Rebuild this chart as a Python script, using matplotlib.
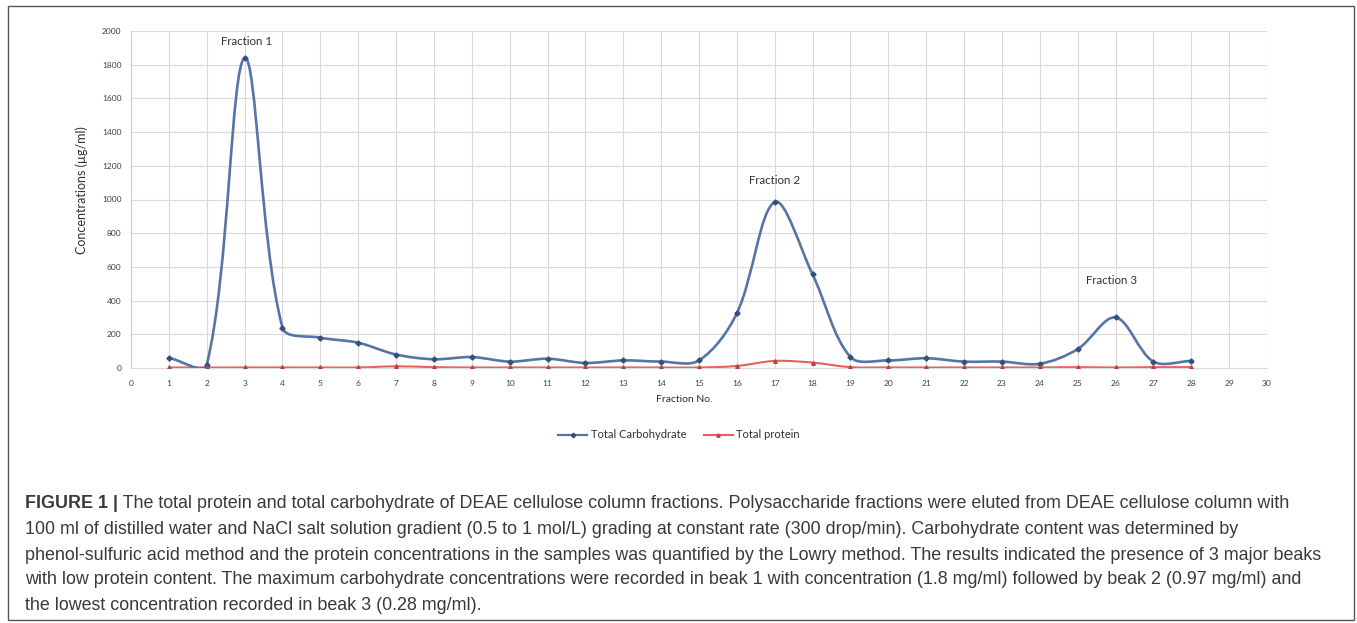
import numpy as np
import matplotlib
matplotlib.use("Agg")
import matplotlib.pyplot as plt
from matplotlib.path import Path
from matplotlib.patches import PathPatch, Rectangle
from matplotlib.lines import Line2D

# ---------------- data ----------------
fractions = list(range(1, 29))
carbohydrate = [60, 20, 1840, 240, 180, 150, 80, 52, 65, 38, 55, 30, 45, 38,
                45, 325, 985, 555, 65, 45, 58, 38, 38, 25, 112, 300, 38, 42]
protein = [3, 3, 3, 3, 3, 3, 10, 5, 3, 3, 3, 3, 3, 3,
           3, 12, 42, 32, 5, 3, 3, 3, 3, 3, 5, 3, 5, 5]
x_ticks = list(range(0, 31))
y_ticks = list(range(0, 2001, 200))
peak_labels = ["Fraction 1", "Fraction 2", "Fraction 3"]
peak_x = [3.05, 17, 25.9]
peak_label_y = [1935, 1110, 520]
series_names = ["Total Carbohydrate", "Total protein"]

caption_bold = "FIGURE 1 |"
caption_lines = [
    "The total protein and total carbohydrate of DEAE cellulose column fractions. Polysaccharide fractions were eluted from DEAE cellulose column with",
    "100 ml of distilled water and NaCl salt solution gradient (0.5 to 1 mol/L) grading at constant rate (300 drop/min). Carbohydrate content was determined by",
    "phenol-sulfuric acid method and the protein concentrations in the samples was quantified by the Lowry method. The results indicated the presence of 3 major beaks",
    "with low protein content. The maximum carbohydrate concentrations were recorded in beak 1 with concentration (1.8 mg/ml) followed by beak 2 (0.97 mg/ml) and",
    "the lowest concentration recorded in beak 3 (0.28 mg/ml).",
]

BLUE = "#5675a6"
BLUE_MK = "#34507c"
RED = "#e8605a"
RED_MK = "#b8433e"
CHART_FONT = "Lato"

W, H = 1357, 623
fig = plt.figure(figsize=(W / 100, H / 100), dpi=100)
fig.patch.set_facecolor("white")

ax = fig.add_axes([131 / W, 1 - 368 / H, (1267 - 131) / W, (368 - 31) / H])
ax.set_xlim(0, 30)
ax.set_ylim(0, 2000)


def smooth_path(xs, ys):
    """Excel-like smoothed line: Bezier segments with tangents weighted by
    neighbouring segment lengths measured on screen."""
    pts = ax.transData.transform(np.column_stack([xs, ys]).astype(float))
    n = len(pts)
    d = np.hypot(*np.diff(pts, axis=0).T)
    out_c, in_c = [], []
    for i in range(n):
        pm = pts[max(i - 1, 0)]
        pp = pts[min(i + 1, n - 1)]
        t = pp - pm
        dm = d[i - 1] if i > 0 else 0.0
        dp = d[i] if i < n - 1 else 0.0
        s = dm + dp if (dm + dp) > 0 else 1.0
        out_c.append(pts[i] + t * (dp / s) / 3.0)
        in_c.append(pts[i] - t * (dm / s) / 3.0)
    verts = [pts[0]]
    codes = [Path.MOVETO]
    for i in range(n - 1):
        verts += [out_c[i], in_c[i + 1], pts[i + 1]]
        codes += [Path.CURVE4] * 3
    verts = ax.transData.inverted().transform(np.array(verts))
    return Path(verts, codes)


ax.add_patch(PathPatch(smooth_path(fractions, carbohydrate), fill=False,
                       edgecolor=BLUE, lw=1.9, zorder=3, capstyle="round"))
ax.add_patch(PathPatch(smooth_path(fractions, protein), fill=False,
                       edgecolor=RED, lw=1.5, zorder=2))
ax.plot(fractions, carbohydrate, ls="none", marker="D", ms=2.6, color=BLUE_MK, zorder=4)
ax.plot(fractions, protein, ls="none", marker="^", ms=2.6, color=RED_MK, zorder=4)

ax.set_xticks(x_ticks)
ax.set_yticks(y_ticks)
ax.tick_params(axis="both", length=0, labelsize=6, colors="#404040")
ax.tick_params(axis="x", pad=9)
ax.tick_params(axis="y", pad=7)
for lbl in ax.get_xticklabels() + ax.get_yticklabels():
    lbl.set_family(CHART_FONT)
ax.grid(True, color="#dadada", lw=0.8)
ax.set_axisbelow(True)
for s in ["top", "right"]:
    ax.spines[s].set_visible(False)
ax.spines["left"].set_color("#cfcfcf")
ax.spines["bottom"].set_color("#dadada")

for lab, px_, py_ in zip(peak_labels, peak_x, peak_label_y):
    ax.text(px_, py_, lab, ha="center", va="center", fontsize=8.3, color="#303030",
            family=CHART_FONT)

fig.text(684 / W, 1 - 400 / H, "Fraction No.", ha="center", va="center",
         fontsize=7.5, color="#303030", family=CHART_FONT)
fig.text(82 / W, 1 - 190 / H, "Concentrations (\u00b5g/ml)", ha="center", va="center",
         rotation=90, fontsize=9, color="#303030", family=CHART_FONT)

handles = [Line2D([], [], color=BLUE, lw=1.6, marker="D", ms=2.3, mfc=BLUE_MK, mec=BLUE_MK),
           Line2D([], [], color=RED, lw=1.5, marker="^", ms=2.3, mfc=RED_MK, mec=RED_MK)]
fig.legend(handles, series_names, loc="center", bbox_to_anchor=(679 / W, 1 - 435 / H),
           ncol=2, frameon=False, prop={"family": CHART_FONT, "size": 8},
           handlelength=2.6, columnspacing=1.6, handletextpad=0.3, labelcolor="#303030")

# outer frame
fig.patches.append(Rectangle((8 / W, 1 - 620 / H), (1354 - 8) / W, (620 - 6) / H,
                             transform=fig.transFigure, fill=False,
                             edgecolor="#555555", lw=1.0))

# caption
cap_color = "#3a3a3a"
cap_font = "Liberation Sans"
cap_size = 12.9
line_y = [503, 530, 555, 580, 606]
t0 = fig.text(25 / W, 1 - line_y[0] / H, caption_bold, ha="left", va="center",
              fontsize=cap_size, fontweight="bold", color=cap_color, family=cap_font)
ax.annotate(" " + caption_lines[0], xy=(1, 0.5), xycoords=t0, ha="left", va="center",
            fontsize=cap_size, color=cap_color, family=cap_font, annotation_clip=False)
for ln, yy in zip(caption_lines[1:], line_y[1:]):
    fig.text(25 / W, 1 - yy / H, ln, ha="left", va="center", fontsize=cap_size,
             color=cap_color, family=cap_font)

fig.savefig("out.png", dpi=100, facecolor="white")
